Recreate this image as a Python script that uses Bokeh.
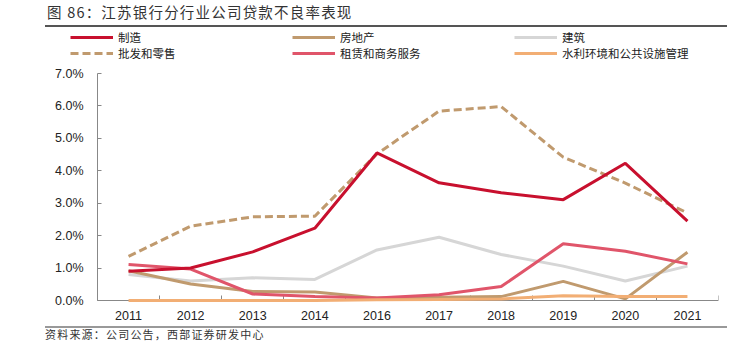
from bokeh.plotting import figure
from bokeh.layouts import column
from bokeh.models import (FixedTicker, PrintfTickFormatter, Range1d, Legend, LegendItem, Div)
from bokeh.embed import file_html
from bokeh.resources import INLINE

years = ["2011", "2012", "2013", "2014", "2016", "2017", "2018", "2019", "2020", "2021"]
manufacturing = [0.90, 1.00, 1.50, 2.23, 4.55, 3.63, 3.32, 3.11, 4.23, 2.45]
real_estate   = [0.92, 0.51, 0.28, 0.26, 0.08, 0.10, 0.12, 0.59, 0.05, 1.49]
construction  = [0.80, 0.60, 0.70, 0.65, 1.56, 1.95, 1.42, 1.06, 0.60, 1.06]
wholesale     = [1.36, 2.29, 2.58, 2.60, 4.52, 5.84, 5.98, 4.42, 3.62, 2.70]
leasing       = [1.11, 0.97, 0.20, 0.12, 0.08, 0.18, 0.43, 1.75, 1.52, 1.13]
utilities     = [0.00, 0.00, 0.00, 0.00, 0.02, 0.03, 0.05, 0.15, 0.12, 0.12]
y_ticks = [0, 1, 2, 3, 4, 5, 6, 7]

title_text = "图 86：江苏银行分行业公司贷款不良率表现"
source_text = "资料来源：公司公告，西部证券研发中心"

FONT = "Noto Sans CJK SC"
W = 744
TOP_H, MID_H, BOT_H = 28, 296, 31
# main figure geometry (pixels)
L, R = 40, 26                        # frame borders (frame spans full height)
AXIS_X = 97                          # canvas x of the y axis
AXIS_TOP = 73 - TOP_H                # figure y of the 7.0% tick
AXIS_BOTTOM = 300 - TOP_H            # figure y of the 0.0% tick
n = len(years)
unit_px = (W - R - AXIS_X) / n
x_start = -(AXIS_X - L) / unit_px
unit_py = (AXIS_BOTTOM - AXIS_TOP) / max(y_ticks)
y_start = -(MID_H - AXIS_BOTTOM) / unit_py
y_end = max(y_ticks) + AXIS_TOP / unit_py

# ---- header: title + rule
top = Div(width=W, height=TOP_H, margin=0, text=(
    '<div style="position:relative;width:744px;height:28px;margin:0;padding:0;">'
    f'<span style="position:absolute;left:47px;top:3px;font-family:\'{FONT}\';font-size:14.5px;'
    'letter-spacing:1.2px;color:#333333;line-height:18px;white-space:nowrap;">'
    f'{title_text}</span>'
    '<div style="position:absolute;left:45px;top:25px;width:682px;height:2px;background:#555555;"></div>'
    '</div>'))

# ---- main chart
xs = [i + 0.5 for i in range(n)]
p = figure(width=W, height=MID_H, output_backend="svg", toolbar_location=None,
           x_range=Range1d(x_start, n), y_range=Range1d(y_start, y_end), margin=0,
           min_border_left=L, min_border_right=R, min_border_top=0, min_border_bottom=0)
p.outline_line_color = None
p.grid.visible = False

p.xaxis.fixed_location = 0
p.xaxis.bounds = (0, n)
p.xaxis.ticker = FixedTicker(ticks=xs, minor_ticks=list(range(n + 1)))
p.xaxis.major_label_overrides = {x: y for x, y in zip(xs, years)}
p.xaxis.major_tick_line_color = None
p.xaxis.minor_tick_in = 5
p.xaxis.minor_tick_out = 0
p.xaxis.minor_tick_line_color = "#888888"
p.xaxis.axis_line_color = "#888888"
p.xaxis.major_label_standoff = 4
p.xaxis.level = "underlay"

p.yaxis.fixed_location = 0
p.yaxis.bounds = (0, max(y_ticks))
p.yaxis.ticker = FixedTicker(ticks=y_ticks, minor_ticks=[])
p.yaxis.formatter = PrintfTickFormatter(format="%.1f%%")
p.yaxis.major_tick_in = 4
p.yaxis.major_tick_out = 0
p.yaxis.major_tick_line_color = "#888888"
p.yaxis.axis_line_color = "#888888"
p.yaxis.major_label_standoff = 14
for ax in (p.xaxis, p.yaxis):
    ax.major_label_text_font = "Liberation Sans"
    ax.major_label_text_font_size = "12.5px"
    ax.major_label_text_color = "#222222"

series = [
    ("制造", manufacturing, "#C8102E", "solid"),
    ("房地产", real_estate, "#C09A6E", "solid"),
    ("建筑", construction, "#D6D6D6", "solid"),
    ("批发和零售", wholesale, "#C09A6E", "8 4"),
    ("租赁和商务服务", leasing, "#E0556A", "solid"),
    ("水利环境和公共设施管理", utilities, "#F2AE74", "solid"),
]
draw_order = [2, 1, 4, 3, 0, 5]
renderers = {}
for i in draw_order:
    name, vals, col, dash = series[i]
    renderers[i] = p.line(xs, vals, line_color=col, line_width=3, line_dash=dash)

col_x = [70, 292, 514]
legend_bottom = 61 - TOP_H           # figure y of legend bottom
for c in range(3):
    items = [LegendItem(label=series[c][0], renderers=[renderers[c]]),
             LegendItem(label=series[c + 3][0], renderers=[renderers[c + 3]])]
    lg = Legend(items=items, location=(col_x[c] - L, MID_H - legend_bottom),
                orientation="vertical", padding=0, margin=0, spacing=0,
                glyph_width=43, glyph_height=16, label_height=16,
                label_standoff=5, label_text_font=FONT, label_text_font_size="11.5px",
                label_text_color="#222222", background_fill_alpha=0,
                border_line_color=None)
    p.add_layout(lg, "center")

# ---- footer: rule + source
bot = Div(width=W, height=BOT_H, margin=0, text=(
    '<div style="position:relative;width:744px;height:31px;margin:0;padding:0;">'
    '<div style="position:absolute;left:45px;top:2px;width:682px;height:2px;background:#999999;"></div>'
    f'<span style="position:absolute;left:45px;top:3px;font-family:\'{FONT}\';font-size:11px;'
    'letter-spacing:1.2px;color:#333333;line-height:14px;white-space:nowrap;">'
    f'{source_text}</span>'
    '</div>'))

layout = column(top, p, bot, spacing=0)
open("out.html", "w").write(file_html(layout, INLINE))
